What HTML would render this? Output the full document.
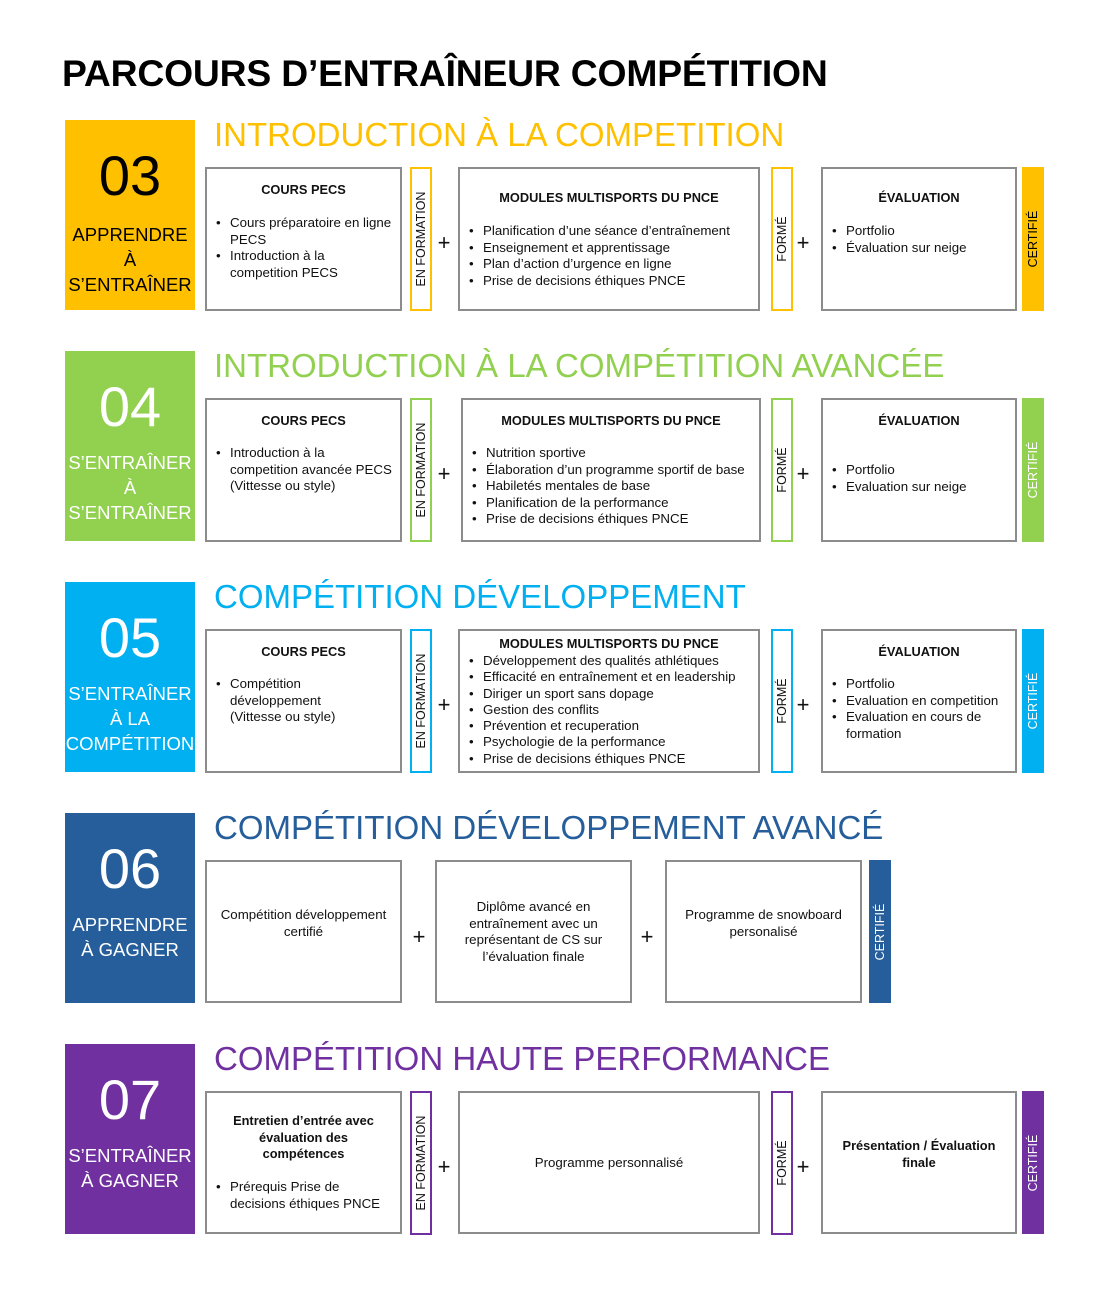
<!DOCTYPE html>
<html><head><meta charset="utf-8">
<style>
*{margin:0;padding:0;box-sizing:border-box}
body{width:1118px;height:1304px;background:#fff;position:relative;font-family:"Liberation Sans",Arial,sans-serif;color:#111;overflow:hidden}
h1{position:absolute;left:62px;top:52px;font-size:37.3px;font-weight:bold;letter-spacing:-0.2px;color:#000;white-space:nowrap}
.ttl{position:absolute;left:214px;font-size:33px;white-space:nowrap;line-height:40px}
.num{position:absolute;left:65px;width:130px;height:190px;text-align:center}
.num .n{position:absolute;left:0;width:130px;top:24px;font-size:56px;line-height:64px}
.num .s{position:absolute;left:-4px;width:138px;font-size:18.5px;line-height:25px}
.box{position:absolute;border:2px solid #8c8c8c;background:#fff;font-size:13.3px;line-height:16.5px}
.bt{position:absolute;left:0;width:100%;text-align:center;font-weight:bold;font-size:12.8px}
ul{position:absolute;list-style:none;left:23px;right:8px}
li{position:relative}
li::before{content:"•";position:absolute;left:-14px}
.bar{position:absolute;width:22px;border:2px solid;background:#fff}
.bar span,.cert span{position:absolute;left:50%;top:50%;transform:translate(-50%,-50%) rotate(-90deg);white-space:nowrap;font-size:12.5px}
.cert{position:absolute;width:22px}
.cert span{color:#fff}
.plus{position:absolute;font-size:22px;line-height:22px;width:20px;text-align:center}
.c{position:absolute;left:0;width:100%;text-align:center}
</style></head><body>
<h1>PARCOURS D’ENTRAÎNEUR COMPÉTITION</h1>

<!-- ROW 03 -->
<div class="num" style="top:120px;background:#FFC000;color:#000"><div class="n">03</div><div class="s" style="top:102px">APPRENDRE<br>À<br>S’ENTRAÎNER</div></div>
<div class="ttl" style="top:115px;color:#FFC000">INTRODUCTION À LA COMPETITION</div>
<div class="box" style="left:205px;top:167px;width:197px;height:144px"><div class="bt" style="top:13px">COURS PECS</div><ul style="top:46px"><li>Cours préparatoire en ligne PECS</li><li>Introduction à la competition PECS</li></ul></div>
<div class="bar" style="left:410px;top:167px;height:144px;border-color:#FFC000"><span>EN FORMATION</span></div>
<div class="plus" style="left:434px;top:232px">+</div>
<div class="box" style="left:458px;top:167px;width:302px;height:144px"><div class="bt" style="top:21px">MODULES MULTISPORTS DU PNCE</div><ul style="top:54px"><li>Planification d’une séance d’entraînement</li><li>Enseignement et apprentissage</li><li>Plan d’action d’urgence en ligne</li><li>Prise de decisions éthiques PNCE</li></ul></div>
<div class="bar" style="left:771px;top:167px;height:144px;border-color:#FFC000"><span>FORMÉ</span></div>
<div class="plus" style="left:793px;top:232px">+</div>
<div class="box" style="left:821px;top:167px;width:196px;height:144px"><div class="bt" style="top:21px">ÉVALUATION</div><ul style="top:54px"><li>Portfolio</li><li>Évaluation sur neige</li></ul></div>
<div class="cert" style="left:1022px;top:167px;height:144px;background:#FFC000"><span style="color:#000">CERTIFIÉ</span></div>

<!-- ROW 04 -->
<div class="num" style="top:351px;background:#92D050;color:#fff"><div class="n">04</div><div class="s" style="top:99px">S’ENTRAÎNER<br>À<br>S’ENTRAÎNER</div></div>
<div class="ttl" style="top:346px;color:#92D050">INTRODUCTION À LA COMPÉTITION AVANCÉE</div>
<div class="box" style="left:205px;top:398px;width:197px;height:144px"><div class="bt" style="top:13px">COURS PECS</div><ul style="top:45px"><li>Introduction à la<br>competition avancée PECS (Vittesse ou style)</li></ul></div>
<div class="bar" style="left:410px;top:398px;height:144px;border-color:#92D050"><span>EN FORMATION</span></div>
<div class="plus" style="left:434px;top:463px">+</div>
<div class="box" style="left:461px;top:398px;width:300px;height:144px"><div class="bt" style="top:13px">MODULES MULTISPORTS DU PNCE</div><ul style="top:45px"><li>Nutrition sportive</li><li>Élaboration d’un programme sportif de base</li><li>Habiletés mentales de base</li><li>Planification de la performance</li><li>Prise de decisions éthiques PNCE</li></ul></div>
<div class="bar" style="left:771px;top:398px;height:144px;border-color:#92D050"><span>FORMÉ</span></div>
<div class="plus" style="left:793px;top:463px">+</div>
<div class="box" style="left:821px;top:398px;width:196px;height:144px"><div class="bt" style="top:13px">ÉVALUATION</div><ul style="top:62px"><li>Portfolio</li><li>Evaluation sur neige</li></ul></div>
<div class="cert" style="left:1022px;top:398px;height:144px;background:#92D050"><span>CERTIFIÉ</span></div>

<!-- ROW 05 -->
<div class="num" style="top:582px;background:#00B0F0;color:#fff"><div class="n">05</div><div class="s" style="top:99px">S’ENTRAÎNER<br>À LA<br>COMPÉTITION</div></div>
<div class="ttl" style="top:577px;color:#00B0F0">COMPÉTITION DÉVELOPPEMENT</div>
<div class="box" style="left:205px;top:629px;width:197px;height:144px"><div class="bt" style="top:13px">COURS PECS</div><ul style="top:45px"><li>Compétition<br>développement<br>(Vittesse ou style)</li></ul></div>
<div class="bar" style="left:410px;top:629px;height:144px;border-color:#00B0F0"><span>EN FORMATION</span></div>
<div class="plus" style="left:434px;top:694px">+</div>
<div class="box" style="left:458px;top:629px;width:302px;height:144px;line-height:16.3px"><div class="bt" style="top:5px">MODULES MULTISPORTS DU PNCE</div><ul style="top:22px;right:2px"><li>Développement des qualités athlétiques</li><li>Efficacité en entraînement et en leadership</li><li>Diriger un sport sans dopage</li><li>Gestion des conflits</li><li>Prévention et recuperation</li><li>Psychologie de la performance</li><li>Prise de decisions éthiques PNCE</li></ul></div>
<div class="bar" style="left:771px;top:629px;height:144px;border-color:#00B0F0"><span>FORMÉ</span></div>
<div class="plus" style="left:793px;top:694px">+</div>
<div class="box" style="left:821px;top:629px;width:196px;height:144px"><div class="bt" style="top:13px">ÉVALUATION</div><ul style="top:45px"><li>Portfolio</li><li>Evaluation en competition</li><li>Evaluation en cours de formation</li></ul></div>
<div class="cert" style="left:1022px;top:629px;height:144px;background:#00B0F0"><span>CERTIFIÉ</span></div>

<!-- ROW 06 -->
<div class="num" style="top:813px;background:#255E9B;color:#fff"><div class="n">06</div><div class="s" style="top:99px">APPRENDRE<br>À GAGNER</div></div>
<div class="ttl" style="top:808px;color:#255E9B">COMPÉTITION DÉVELOPPEMENT AVANCÉ</div>
<div class="box" style="left:205px;top:860px;width:197px;height:143px"><div class="c" style="top:45px;padding:0 6px">Compétition développement certifié</div></div>
<div class="plus" style="left:409px;top:926px">+</div>
<div class="box" style="left:435px;top:860px;width:197px;height:143px"><div class="c" style="top:37px;padding:0 20px">Diplôme avancé en entraînement avec un représentant de CS sur l’évaluation finale</div></div>
<div class="plus" style="left:637px;top:926px">+</div>
<div class="box" style="left:665px;top:860px;width:197px;height:143px"><div class="c" style="top:45px;padding:0 10px">Programme de snowboard personalisé</div></div>
<div class="cert" style="left:869px;top:860px;height:143px;background:#255E9B"><span>CERTIFIÉ</span></div>

<!-- ROW 07 -->
<div class="num" style="top:1044px;background:#7030A0;color:#fff"><div class="n">07</div><div class="s" style="top:99px">S’ENTRAÎNER<br>À GAGNER</div></div>
<div class="ttl" style="top:1039px;color:#7030A0">COMPÉTITION HAUTE PERFORMANCE</div>
<div class="box" style="left:205px;top:1091px;width:197px;height:143px"><div class="bt" style="top:20px;padding:0 18px;line-height:16.5px">Entretien d’entrée avec évaluation des compétences</div><ul style="top:86px"><li>Prérequis Prise de<br>decisions éthiques PNCE</li></ul></div>
<div class="bar" style="left:410px;top:1091px;height:144px;border-color:#7030A0"><span>EN FORMATION</span></div>
<div class="plus" style="left:434px;top:1156px">+</div>
<div class="box" style="left:458px;top:1091px;width:302px;height:143px"><div class="c" style="top:62px">Programme personnalisé</div></div>
<div class="bar" style="left:771px;top:1091px;height:144px;border-color:#7030A0"><span>FORMÉ</span></div>
<div class="plus" style="left:793px;top:1156px">+</div>
<div class="box" style="left:821px;top:1091px;width:196px;height:143px"><div class="bt" style="top:45px;padding:0 12px;line-height:16.5px">Présentation / Évaluation finale</div></div>
<div class="cert" style="left:1022px;top:1091px;height:143px;background:#7030A0"><span>CERTIFIÉ</span></div>
</body></html>
